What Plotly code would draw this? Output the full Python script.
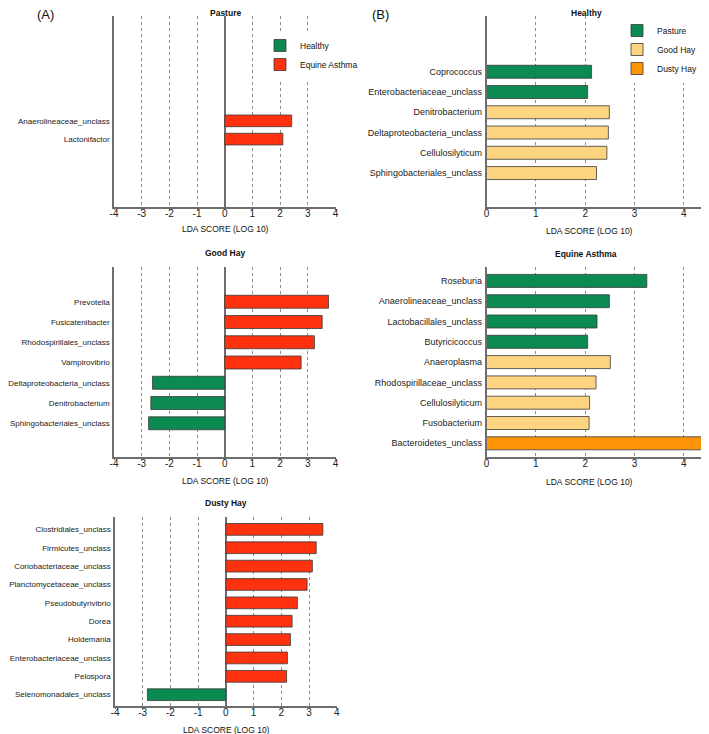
import plotly.graph_objects as go

W, H = 709, 734
OFF = 8  # the page body margin shifts the figure by this many pixels

# ---- data, listed top to bottom ----
pasture_taxa = ["Anaerolineaceae_unclass", "Lactonifactor"]
pasture_lda = [2.42, 2.10]
pasture_grp = ["Equine Asthma", "Equine Asthma"]

goodhay_taxa = ["Prevotella", "Fusicatenibacter", "Rhodospirillales_unclass", "Vampirovibrio",
                "Deltaproteobacteria_unclass", "Denitrobacterium", "Sphingobacteriales_unclass"]
goodhay_lda = [3.75, 3.52, 3.24, 2.76, -2.61, -2.67, -2.75]
goodhay_grp = ["Equine Asthma"] * 4 + ["Healthy"] * 3

dusty_taxa = ["Clostridiales_unclass", "Firmicutes_unclass", "Coriobacteriaceae_unclass",
              "Planctomycetaceae_unclass", "Pseudobutyrivibrio", "Dorea", "Holdemania",
              "Enterobacteriaceae_unclass", "Pelospora", "Selenomonadales_unclass"]
dusty_lda = [3.50, 3.26, 3.12, 2.93, 2.58, 2.39, 2.33, 2.22, 2.19, -2.83]
dusty_grp = ["Equine Asthma"] * 9 + ["Healthy"]

healthy_taxa = ["Coprococcus", "Enterobacteriaceae_unclass", "Denitrobacterium",
                "Deltaproteobacteria_unclass", "Cellulosilyticum", "Sphingobacteriales_unclass"]
healthy_lda = [2.13, 2.05, 2.49, 2.47, 2.44, 2.23]
healthy_grp = ["Pasture", "Pasture", "Good Hay", "Good Hay", "Good Hay", "Good Hay"]

asthma_taxa = ["Roseburia", "Anaerolineaceae_unclass", "Lactobacillales_unclass", "Butyricicoccus",
               "Anaeroplasma", "Rhodospirillaceae_unclass", "Cellulosilyticum", "Fusobacterium",
               "Bacteroidetes_unclass"]
asthma_lda = [3.25, 2.49, 2.24, 2.05, 2.51, 2.22, 2.09, 2.08, 4.45]
asthma_grp = ["Pasture"] * 4 + ["Good Hay"] * 4 + ["Dusty Hay"]

ticks_a = [-4, -3, -2, -1, 0, 1, 2, 3, 4]
ticks_b = [0, 1, 2, 3, 4]

colors = {"Healthy": "#0b8a52", "Equine Asthma": "#ff3210",
          "Pasture": "#0b8a52", "Good Hay": "#fdd47f", "Dusty Hay": "#ff9408"}
ranks = {"Healthy": 1, "Equine Asthma": 2, "Pasture": 1, "Good Hay": 2, "Dusty Hay": 3}


def fx(px):
    return (px - OFF) / W


def fy(py):
    return 1 - (py - OFF) / H


FONT = "Liberation Sans, Arial, sans-serif"
fig = go.Figure()

# panel: taxa, lda, groups, axis suffix, legend, x range, ticks, x px, y px, y range,
#        title, title y, axis-title y, title x, label size
panels = [
    (pasture_taxa, pasture_lda, pasture_grp, "", "legend", [-4, 4.02], ticks_a, (114, 336), (16, 206.7),
     [-3.7, 6.74], "Pasture", 12.5, 228.5, 225, 8.0),
    (goodhay_taxa, goodhay_lda, goodhay_grp, "2", "legend", [-4, 4.02], ticks_a, (114, 336), (266.7, 456.7),
     [-1.65, 7.73], "Good Hay", 253, 480.7, 225, 8.0),
    (dusty_taxa, dusty_lda, dusty_grp, "3", "legend", [-4, 4.02], ticks_a, (115, 337.3), (516.7, 705.7),
     [-0.60, 9.69], "Dusty Hay", 503, 730, 226, 8.0),
    (healthy_taxa, healthy_lda, healthy_grp, "4", "legend2", [0, 4.5], ticks_b, (486.5, 708.5), (16, 206.7),
     [-1.66, 7.75], "Healthy", 12.5, 231, 586, 9),
    (asthma_taxa, asthma_lda, asthma_grp, "5", "legend2", [0, 4.5], ticks_b, (486.5, 708.5), (266.7, 456.7),
     [-0.66, 8.70], "Equine Asthma", 254, 481.7, 586, 9),
]

seen = set()
annotations = []
for taxa, lda, grp, sfx, leg, xr, tks, xpx, ypx, yr, title, ty, aty, cx, lsz in panels:
    for g in dict.fromkeys(grp):
        idx = [i for i, gg in enumerate(grp) if gg == g]
        fig.add_trace(go.Bar(
            x=[lda[i] for i in idx], y=[taxa[i] for i in idx], orientation="h",
            name=g, legend=leg, legendrank=ranks[g], showlegend=g not in seen,
            marker=dict(color=colors[g], line=dict(color="#3a3a3a", width=0.8)),
            width=0.64, xaxis="x" + sfx, yaxis="y" + sfx))
        seen.add(g)
    neg = xr[0] < 0
    fig.update_layout(**{
        "xaxis" + sfx: dict(domain=[fx(xpx[0]), fx(xpx[1])], anchor="y" + sfx, range=xr,
                            tickmode="array", tickvals=tks, ticktext=[str(t) for t in tks],
                            showgrid=True, gridcolor="#8c8c8c", griddash="dot",
                            gridwidth=1, zeroline=neg, zerolinecolor="#6e6e6e", zerolinewidth=1.5,
                            showline=True, linecolor="#6e6e6e", linewidth=1.5,
                            ticks="outside", ticklen=2, tickcolor="#6e6e6e", automargin=False,
                            ticklabelstandoff=-5,
                            tickfont=dict(size=10, color="#222"), fixedrange=True),
        "yaxis" + sfx: dict(domain=[fy(ypx[1]), fy(ypx[0])], anchor="x" + sfx,
                            type="category", categoryorder="array", categoryarray=taxa[::-1],
                            range=yr, showgrid=False, zeroline=False, automargin=False,
                            showline=True, linecolor="#6e6e6e", linewidth=1.5, ticks="",
                            ticklabelstandoff=1, tickfont=dict(size=lsz, color="#222"))
    })
    annotations.append(dict(text="<b>" + title + "</b>", x=fx(cx), y=fy(ty),
                            xanchor="center", yanchor="middle",
                            xref="paper", yref="paper", showarrow=False,
                            font=dict(size=8.5, color="#111")))
    annotations.append(dict(text="LDA SCORE (LOG 10)", x=fx(cx if neg else 589), y=fy(aty),
                            xanchor="center", yanchor="middle",
                            xref="paper", yref="paper", showarrow=False,
                            font=dict(size=8.5, color="#111")))

annotations.append(dict(text="(A)", x=fx(45), y=fy(15), xref="paper", yref="paper",
                        xanchor="center", yanchor="middle",
                        showarrow=False, font=dict(size=13, color="#111")))
annotations.append(dict(text="(B)", x=fx(381), y=fy(15), xref="paper", yref="paper",
                        xanchor="center", yanchor="middle",
                        showarrow=False, font=dict(size=13, color="#111")))

fig.update_layout(
    width=W, height=H, margin=dict(l=0, r=0, t=0, b=0, autoexpand=False),
    paper_bgcolor="white", plot_bgcolor="white",
    font=dict(family=FONT, color="#111"),
    barmode="overlay", annotations=annotations,
    legend=dict(x=fx(260), y=fy(31), xanchor="left", yanchor="top", bgcolor="white",
                font=dict(size=8.5), traceorder="normal", tracegroupgap=0),
    legend2=dict(x=fx(617), y=fy(16), xanchor="left", yanchor="top", bgcolor="white",
                 font=dict(size=8.5), traceorder="normal", tracegroupgap=0),
)

fig.write_html("out.html")
